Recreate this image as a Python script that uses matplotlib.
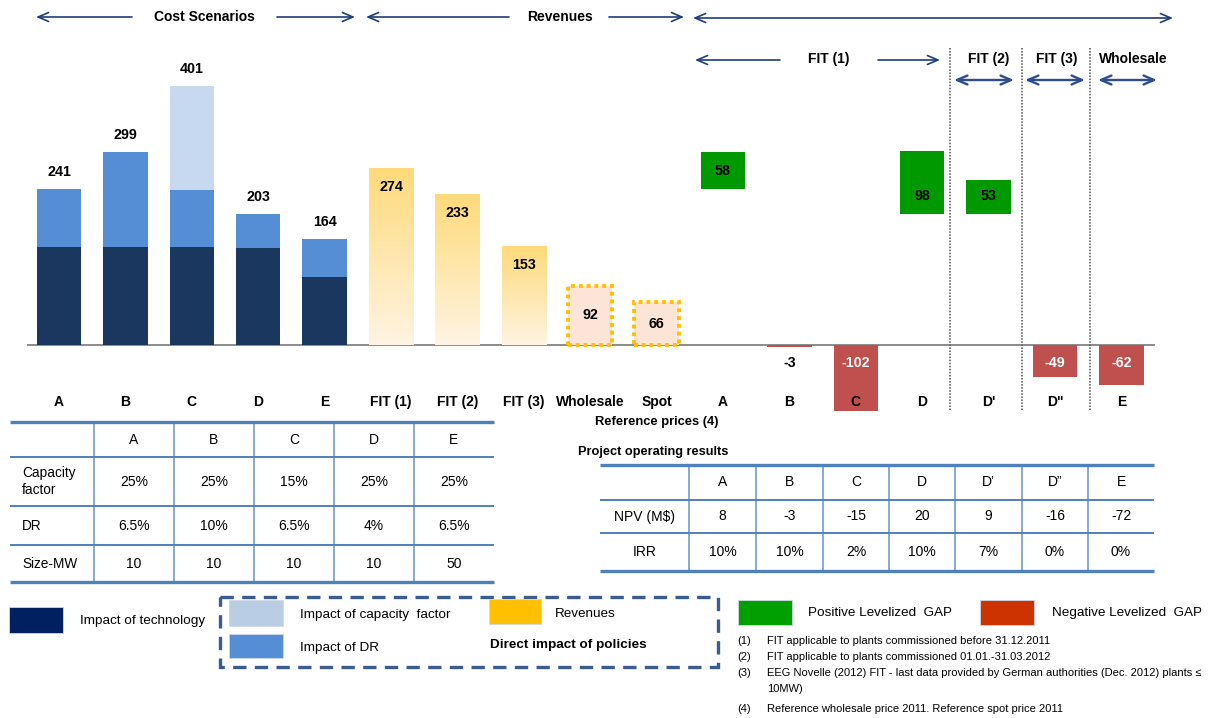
import matplotlib
matplotlib.use("Agg")
import matplotlib.pyplot as plt
import numpy as np
from matplotlib import transforms
from matplotlib.patches import Rectangle
from matplotlib.colors import LinearSegmentedColormap

# ---------------- data ----------------
cost_labels = ["A", "B", "C", "D", "E"]
cost_tech = np.array([152, 152, 152, 150, 105])      # impact of technology
cost_dr = np.array([89, 147, 88, 53, 59])            # impact of discount rate
cost_cap = np.array([0, 0, 161, 0, 0])               # impact of capacity factor

rev_labels = ["FIT (1)", "FIT (2)", "FIT (3)", "Wholesale", "Spot"]
revenues = np.array([274, 233, 153, 92, 66])
rev_is_reference = [False, False, False, True, True]

gap_labels = ["A", "B", "C", "D", "D'", "D\"", "E"]
gap_values = np.array([58, -3, -102, 98, 53, -49, -62])
gap_cost_ref = np.array([241, 299, 401, 203, 203, 203, 164])

tbl1_cols = ["A", "B", "C", "D", "E"]
tbl1_rows = ["Capacity\nfactor", "DR", "Size-MW"]
tbl1_vals = [["25%", "25%", "15%", "25%", "25%"],
             ["6.5%", "10%", "6.5%", "4%", "6.5%"],
             ["10", "10", "10", "10", "50"]]

tbl2_cols = ["A", "B", "C", "D", "D\u2019", "D\u201d", "E"]
tbl2_rows = ["NPV (M$)", "IRR"]
tbl2_vals = [["8", "-3", "-15", "20", "9", "-16", "-72"],
             ["10%", "10%", "2%", "10%", "7%", "0%", "0%"]]

footnotes = [
    ("(1)", "FIT applicable to plants commissioned before 31.12.2011"),
    ("(2)", "FIT applicable to plants commissioned 01.01.-31.03.2012"),
    ("(3)", "EEG Novelle (2012) FIT - last data provided by German authorities (Dec. 2012) plants \u2264"),
    ("", "10MW)"),
    ("(4)", "Reference wholesale price 2011. Reference spot price 2011"),
]

# ---------------- style ----------------
plt.rcParams["font.family"] = ["Liberation Sans", "DejaVu Sans"]

C_TECH = "#1A375F"
C_DR = "#558ED5"
C_CAP = "#C6D9F1"
C_POS = "#009900"
C_NEG = "#C0504D"
NAVY = "#1F3D7A"
TBL = "#4F81BD"
TBL_V = "#7EA2D1"

W, H = 1212, 718
fig = plt.figure(figsize=(W / 100, H / 100), dpi=100)

# overlay working in pixel units (origin top-left)
ov = fig.add_axes([0, 0, 1, 1], zorder=3)
ov.set_xlim(0, W)
ov.set_ylim(H, 0)
ov.axis("off")
ov.patch.set_alpha(0)

# main chart axes
xl_px, xr_px, top_px, bot_px = 27, 1155, 40, 420
base_px, ppu, step, x0 = 345, 0.646, 66.4, 59
ax = fig.add_axes([xl_px / W, 1 - bot_px / H, (xr_px - xl_px) / W, (bot_px - top_px) / H], zorder=1)
XLIM = ((xl_px - x0) / step, (xr_px - x0) / step)
YLIM = ((base_px - bot_px) / ppu, (base_px - top_px) / ppu)
ax.axis("off")
bw = 0.67

lab_kw = dict(ha="center", va="center", fontweight="bold", fontsize=10.3, textcoords="offset pixels")

# cost stacks
xc = np.arange(len(cost_labels))
ax.bar(xc, cost_tech, width=bw, color=C_TECH, zorder=2)
ax.bar(xc, cost_dr, bottom=cost_tech, width=bw, color=C_DR, zorder=2)
ax.bar(xc, cost_cap, bottom=cost_tech + cost_dr, width=bw, color=C_CAP, zorder=2)
cost_total = cost_tech + cost_dr + cost_cap
for x, t in zip(xc, cost_total):
    ax.annotate(f"{t}", (x, t), xytext=(0, 17), **lab_kw)

# revenues
xr = np.arange(len(rev_labels)) + len(cost_labels)
grad = np.linspace(0, 1, 256).reshape(-1, 1)
rev_cmap = LinearSegmentedColormap.from_list("rev", ["#FEF4E2", "#FFDA7A"])
for x, v, ref in zip(xr, revenues, rev_is_reference):
    if ref:
        ax.bar(x, v, width=bw, facecolor="#FCE4D6", edgecolor="#FFC000",
               linewidth=2.8, linestyle=(0, (1, 1)), zorder=2)
        ax.annotate(f"{v}", (x, v / 2), xytext=(0, 0), **lab_kw)
    else:
        b = ax.bar(x, v, width=bw, color="none", edgecolor="none", zorder=2)[0]
        im = ax.imshow(grad, extent=(x - bw / 2, x + bw / 2, 0, v), origin="lower",
                       cmap=rev_cmap, aspect="auto", zorder=2)
        im.set_clip_path(b)
        ax.annotate(f"{v}", (x, v), xytext=(0, -19), **lab_kw)

# levelized gaps
xg = np.arange(len(gap_labels)) + len(cost_labels) + len(rev_labels)
gap_base = np.where(gap_values > 0, gap_cost_ref, 0)
ax.bar(xg, gap_values, bottom=gap_base, width=bw,
       color=[C_POS if g > 0 else C_NEG for g in gap_values], zorder=2)
for x, g, b0 in zip(xg, gap_values, gap_base):
    col = "white" if g < -10 else "black"
    ax.annotate(f"{g}", (x, b0), xytext=(0, 18 if g > 0 else -18), color=col, **lab_kw)

ax.axhline(0, color="#8C8C8C", lw=1.4, zorder=1.5)
ax.set_xlim(*XLIM)
ax.set_ylim(*YLIM)

# category labels under the bars
tr = transforms.blended_transform_factory(ax.transData, ov.transData)
all_labels = cost_labels + rev_labels + gap_labels
for i, lab in enumerate(all_labels):
    ov.text(i, 402, lab, transform=tr, ha="center", va="center", fontweight="bold", fontsize=10)
ov.text(657, 422, "Reference prices (4)", ha="center", va="center", fontweight="bold", fontsize=9.3)

# section separators
for xs in (950, 1022, 1090):
    ov.plot([xs, xs], [48, 410], color="#505050", lw=1.1, linestyle=(0, (1, 1)))


# header arrows
def arrow(x1, x2, y, gap=None, lw=1.2, color=NAVY):
    style = "->,head_length=0.75,head_width=0.32"
    kw = dict(arrowstyle=style, color=color, lw=lw, shrinkA=0, shrinkB=0)
    if gap is None:
        ov.annotate("", xy=(x2, y), xytext=(x1, y),
                    arrowprops=dict(kw, arrowstyle="<->,head_length=0.75,head_width=0.32"))
    else:
        ov.annotate("", xy=(x1, y), xytext=(gap[0], y), arrowprops=kw)
        ov.annotate("", xy=(x2, y), xytext=(gap[1], y), arrowprops=kw)


hdr = dict(ha="center", va="center", fontweight="bold", fontsize=10)
arrow(36, 355, 17, gap=(132, 277))
ov.text(204, 17, "Cost Scenarios", **hdr)
arrow(366, 684, 17, gap=(509, 609))
ov.text(560, 17, "Revenues", **hdr)
arrow(693, 1173, 18)
arrow(695, 940, 60, gap=(780, 878))
ov.text(829, 59, "FIT (1)", **hdr)
for xa, xb, txt, xt in ((954, 1014, "FIT (2)", 989), (1025, 1085, "FIT (3)", 1057),
                        (1098, 1157, "Wholesale", 1133)):
    arrow(xa, xb, 80, lw=1.7, color="#2E4D8C")
    ov.text(xt, 59, txt, **hdr)


# tables
def hline(x1, x2, y, lw, color=TBL):
    ov.plot([x1, x2], [y, y], color=color, lw=lw, solid_capstyle="butt")


def vline(x, y1, y2, lw=1.3, color=TBL_V):
    ov.plot([x, x], [y1, y2], color=color, lw=lw, solid_capstyle="butt")


# cost scenario parameters table
t1x = [10, 94, 174, 254, 334, 414, 494]
t1y = [422, 457, 506, 545, 582]
for xv in t1x[1:-1]:
    vline(xv, t1y[0], t1y[-1] + 2)
for yv in t1y[1:-1]:
    hline(t1x[0], t1x[-1], yv, 1.4)
hline(t1x[0], t1x[-1], t1y[0], 2.4)
hline(t1x[0], t1x[-1], t1y[-1], 2.4)
cell = dict(ha="center", va="center", fontsize=10)
for j, c in enumerate(tbl1_cols):
    ov.text((t1x[j + 1] + t1x[j + 2]) / 2, (t1y[0] + t1y[1]) / 2, c, **cell)
for i, r in enumerate(tbl1_rows):
    yc = (t1y[i + 1] + t1y[i + 2]) / 2
    ov.text(22, yc, r, ha="left", va="center", fontsize=9.8, linespacing=1.3)
    for j, v in enumerate(tbl1_vals[i]):
        ov.text((t1x[j + 1] + t1x[j + 2]) / 2, yc, v, **cell)

# project operating results table
ov.text(578, 452, "Project operating results", ha="left", va="center", fontweight="bold", fontsize=9.2)
t2x = [600, 689, 756, 823, 889, 955, 1022, 1088, 1154]
t2y = [465, 500, 533, 571]
for xv in t2x[1:-1]:
    vline(xv, t2y[0], t2y[-1] + 2)
for yv in t2y[1:-1]:
    hline(t2x[0], t2x[-1], yv, 1.4)
hline(t2x[0], t2x[-1], t2y[0], 2.4)
hline(t2x[0], t2x[-1], t2y[-1], 2.4)
for j, c in enumerate(tbl2_cols):
    ov.text((t2x[j + 1] + t2x[j + 2]) / 2, (t2y[0] + t2y[1]) / 2, c, **cell)
for i, r in enumerate(tbl2_rows):
    yc = (t2y[i + 1] + t2y[i + 2]) / 2
    ov.text((t2x[0] + t2x[1]) / 2, yc, r, **cell)
    for j, v in enumerate(tbl2_vals[i]):
        ov.text((t2x[j + 1] + t2x[j + 2]) / 2, yc, v, **cell)


# legend
def swatch(x1, x2, y1, y2, color):
    ov.add_patch(Rectangle((x1, y1), x2 - x1, y2 - y1, facecolor=color, edgecolor="#D0D8E4", lw=0.6))


leg = dict(ha="left", va="center", fontsize=9.7)
swatch(9, 63, 607, 633, "#002060")
ov.text(80, 621, "Impact of technology", **leg)
ov.add_patch(Rectangle((220, 597), 498, 70, facecolor="none", edgecolor="#3B5C8E",
                       lw=2.4, linestyle=(0, (4, 2.5))))
swatch(229, 283, 600, 626, "#B9CDE5")
ov.text(300, 615, "Impact of capacity  factor", **leg)
swatch(229, 283, 634, 658, C_DR)
ov.text(300, 648, "Impact of DR", **leg)
swatch(489, 541, 599, 624, "#FFC000")
ov.text(555, 614, "Revenues", **leg)
ov.text(490, 645, "Direct impact of policies", ha="left", va="center", fontweight="bold", fontsize=9.7)

swatch(738, 792, 600, 625, "#00A000")
ov.text(808, 613, "Positive Levelized  GAP", **leg)
swatch(980, 1034, 600, 625, "#CC3300")
ov.text(1052, 613, "Negative Levelized  GAP", **leg)

for (num, txt), yv in zip(footnotes, (641, 657, 673, 689, 709)):
    ov.text(737, yv, num, ha="left", va="center", fontsize=8.0)
    ov.text(767, yv, txt, ha="left", va="center", fontsize=8.0)

fig.savefig("out.png", dpi=100)
